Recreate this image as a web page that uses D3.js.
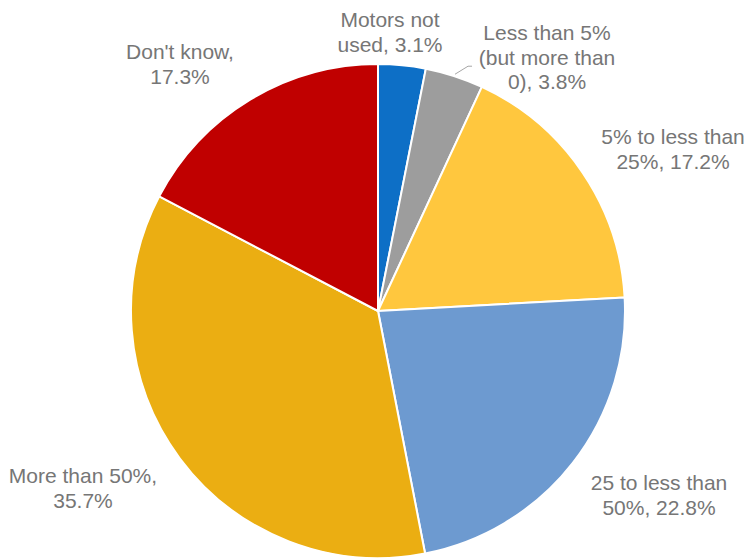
<!DOCTYPE html>
<html><head><meta charset="utf-8">
<script src="https://cdn.jsdelivr.net/npm/d3@7"></script>
<style>body{margin:0;background:#fff}svg{display:block}</style>
</head><body>
<script>
const categories = ["Motors not used", "Less than 5% (but more than 0)", "5% to less than 25%", "25 to less than 50%", "More than 50%", "Don't know"];
const values = [3.1, 3.8, 17.2, 22.8, 35.7, 17.3];
const colors = ["#0d6fc6", "#9d9d9d", "#ffc73e", "#6d9ad0", "#ebae12", "#c00000"];
const labelLines = [
  ["Motors not", "used, 3.1%"],
  ["Less than 5%", "(but more than", "0), 3.8%"],
  ["5% to less than", "25%, 17.2%"],
  ["25 to less than", "50%, 22.8%"],
  ["More than 50%,", "35.7%"],
  ["Don't know,", "17.3%"]
];
const labelPos = [[390, 27], [547, 40], [673, 144], [659, 490], [83, 483], [180, 59]];

const W = 747, H = 559, cx = 378, cy = 311, R = 247;
const svg = d3.select("body").append("svg").attr("width", W).attr("height", H);
const data = categories.map((c, i) => ({c, v: values[i], i}));
const pie = d3.pie().value(d => d.v).sort(null);
const arc = d3.arc().innerRadius(0).outerRadius(R);
const g = svg.append("g").attr("transform", `translate(${cx},${cy})`);
g.selectAll("path").data(pie(data)).join("path")
  .attr("d", arc).attr("fill", d => colors[d.data.i])
  .attr("stroke", "#fff").attr("stroke-width", 2).attr("stroke-linejoin", "round");

// leader line for small slice
const arcs = pie(data);
const a1 = arcs[1];
const mid = (a1.startAngle + a1.endAngle) / 2;
const p0 = [cx + Math.sin(mid) * (R + 2), cy - Math.cos(mid) * (R + 2)];
svg.append("polyline").attr("points", `${p0[0]},${p0[1]} ${p0[0]+13},${p0[1]-8} ${p0[0]+17},${p0[1]-8}`)
  .attr("fill", "none").attr("stroke", "#a6a6a6").attr("stroke-width", 1);

const lab = svg.append("g").attr("font-family", "Liberation Sans, Arial, sans-serif")
  .attr("font-size", 21).attr("fill", "#767676").attr("text-anchor", "middle");
labelLines.forEach((lines, i) => {
  const t = lab.append("text").attr("x", labelPos[i][0]).attr("y", labelPos[i][1]);
  lines.forEach((l, j) => t.append("tspan").attr("x", labelPos[i][0]).attr("dy", j === 0 ? 0 : 24.5).text(l));
});
</script>
</body></html>
